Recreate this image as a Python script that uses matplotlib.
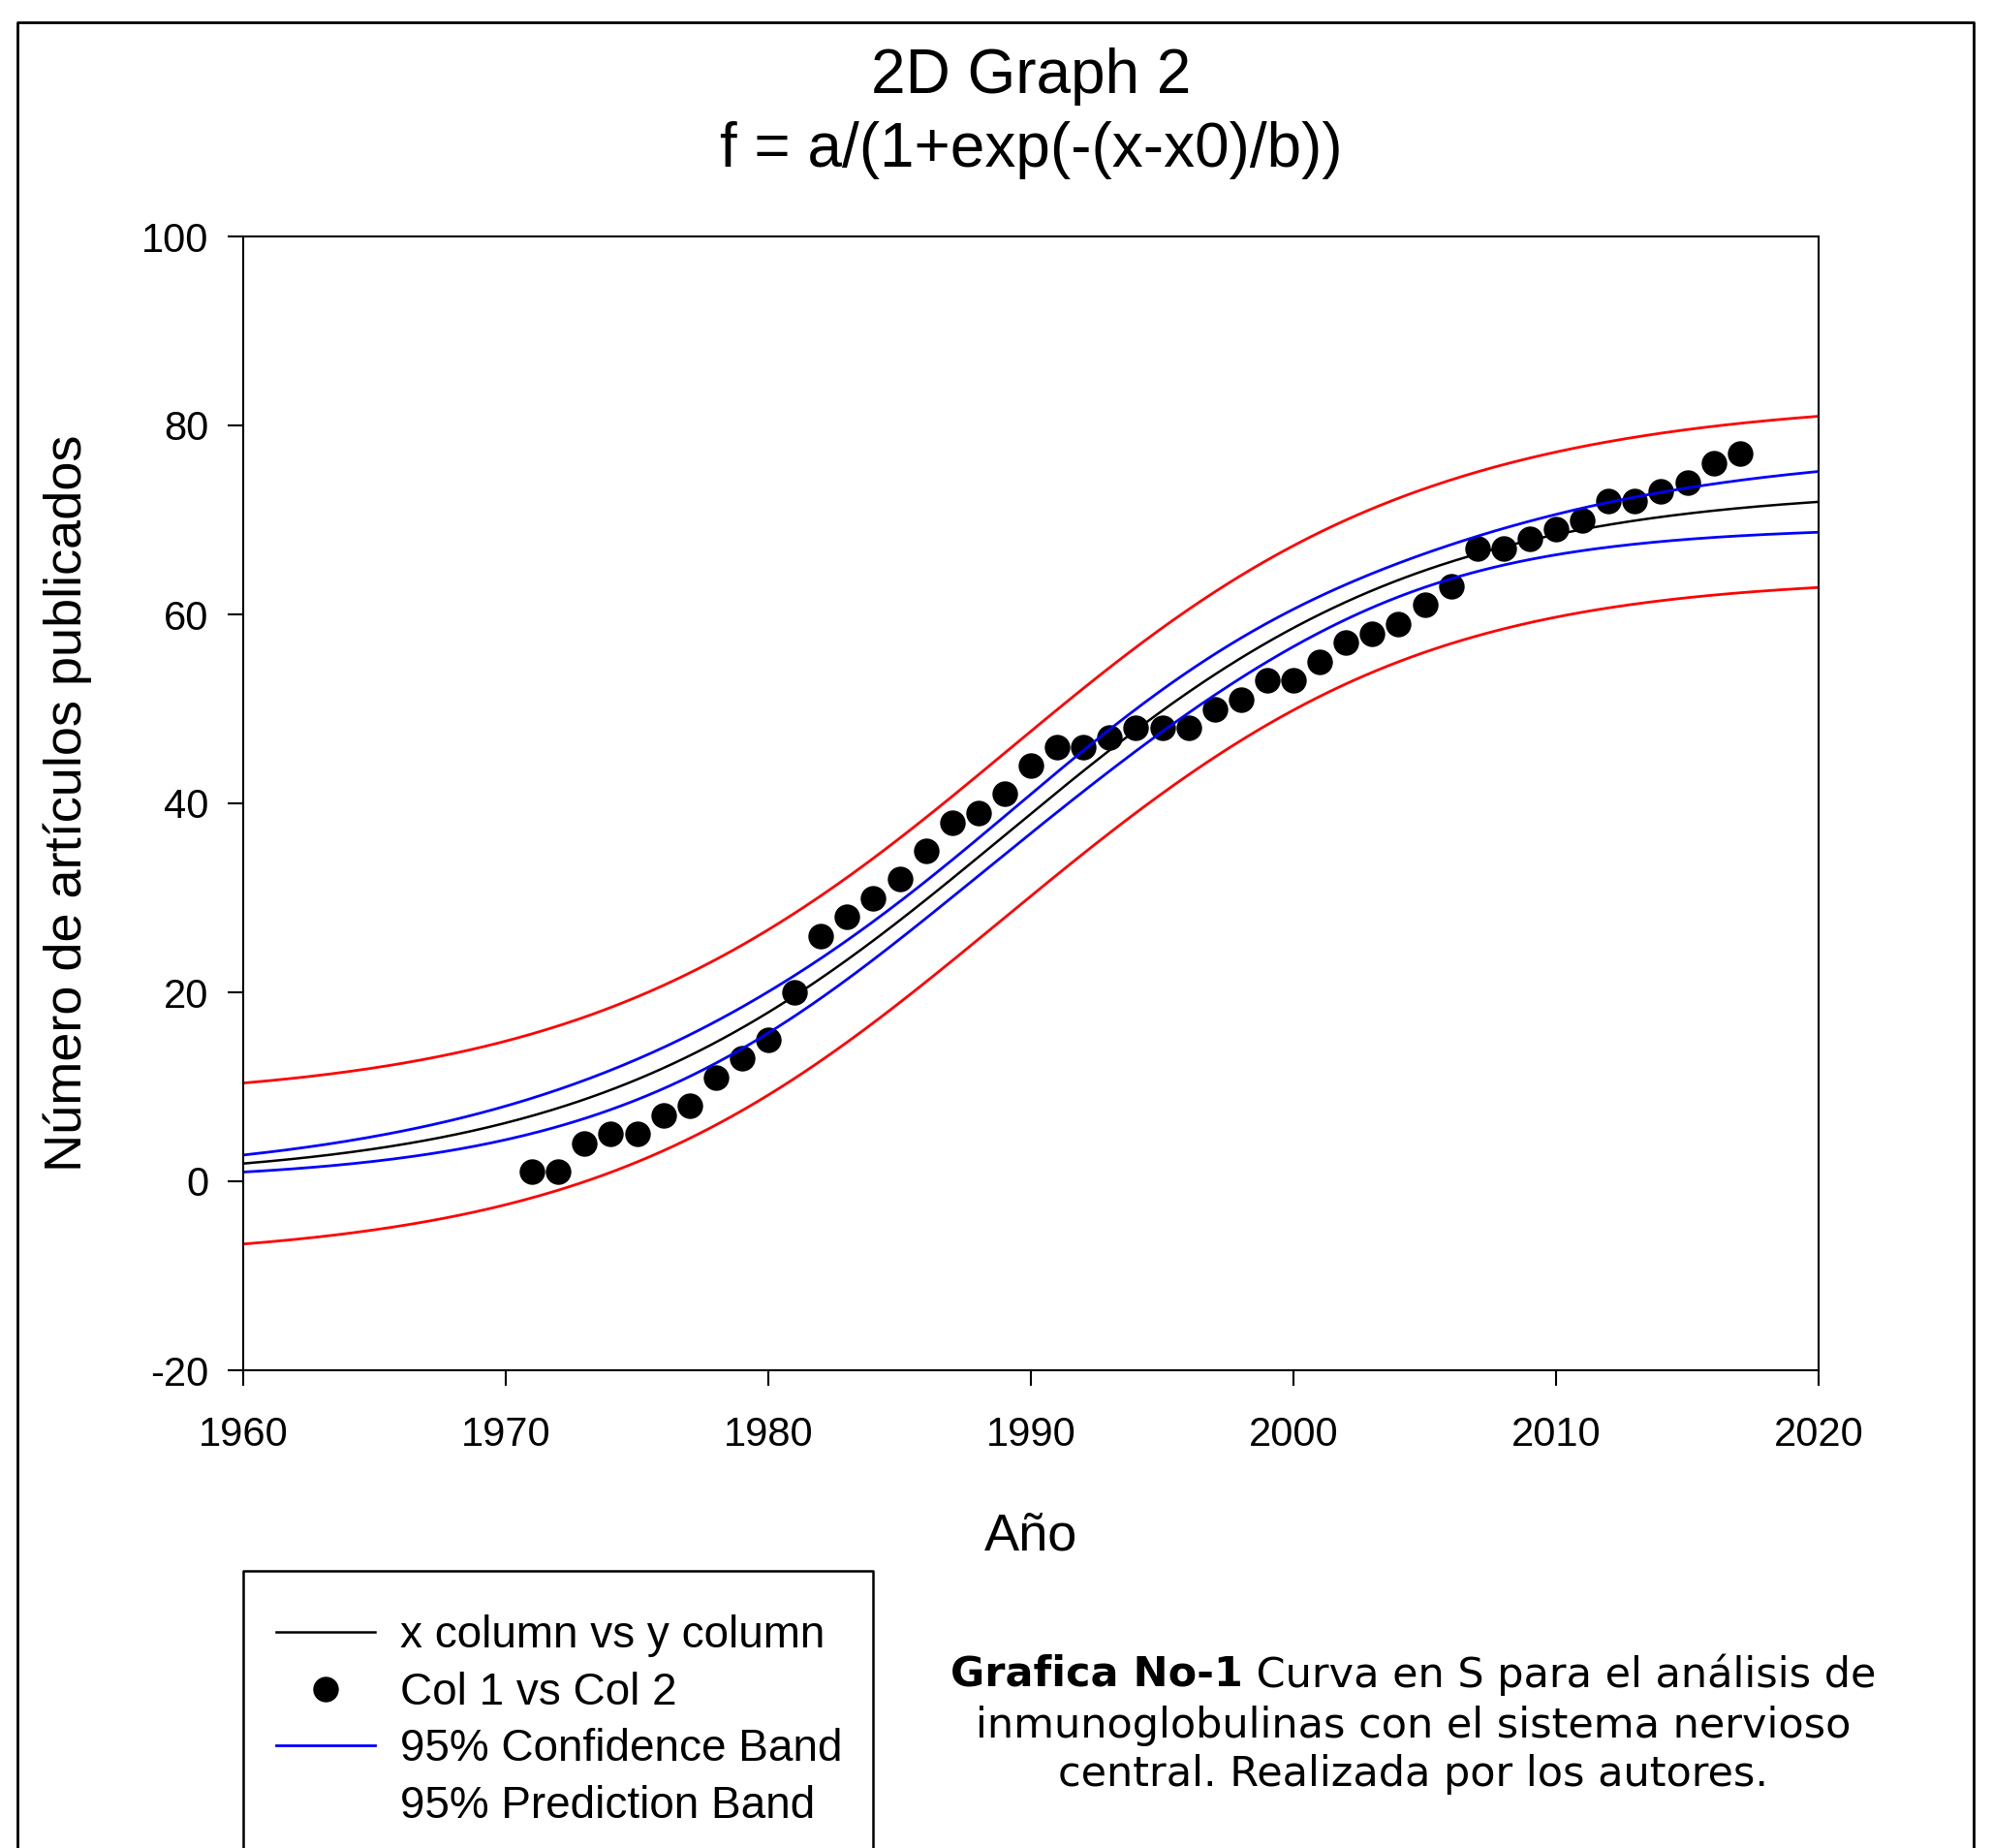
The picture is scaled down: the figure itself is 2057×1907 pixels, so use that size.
import numpy as np
import matplotlib
matplotlib.use('Agg')
import matplotlib.pyplot as plt
from matplotlib.lines import Line2D

# data: publications per year
years = np.arange(1971, 2018)
articles = [1, 1, 4, 5, 5, 7, 8, 11, 13, 15, 20, 26, 28, 30, 32, 35, 38, 39, 41, 44,
            46, 46, 47, 48, 48, 48, 50, 51, 53, 53, 55, 57, 58, 59, 61, 63, 67, 67,
            68, 69, 70, 72, 72, 73, 74, 76, 77]
x_ticks = [1960, 1970, 1980, 1990, 2000, 2010, 2020]
y_ticks = [-20, 0, 20, 40, 60, 80, 100]
legend_labels = ['x column vs y column', 'Col 1 vs Col 2', '95% Confidence Band', '95% Prediction Band']
t_975 = 2.0154  # t(0.975, n-3)

W, H = 2057, 1907
plt.rcParams['font.family'] = ['Liberation Sans', 'DejaVu Sans']
plt.rcParams['axes.unicode_minus'] = False

# sigmoid fit f = a/(1+exp(-(x-x0)/b)), gauss-newton
x = years.astype(float)
y = np.array(articles, float)
p = np.array([75.0, 1990.0, 8.0])

def jac(xx, p):
    a, x0, b = p
    e = np.exp(-(xx - x0) / b)
    f = a / (1 + e)
    J = np.column_stack([1 / (1 + e),
                         -a * e / (b * (1 + e) ** 2),
                         -a * e * (xx - x0) / (b ** 2 * (1 + e) ** 2)])
    return f, J

for it in range(60):
    f, J = jac(x, p)
    p = p + np.linalg.lstsq(J, y - f, rcond=None)[0]

f, J = jac(x, p)
s2 = np.sum((y - f) ** 2) / (len(x) - 3)
cov = s2 * np.linalg.inv(J.T @ J)

xs = np.linspace(1960, 2020, 400)
fs, Js = jac(xs, p)
se = np.sqrt(np.einsum('ij,jk,ik->i', Js, cov, Js))
conf = t_975 * se
pred = t_975 * np.sqrt(s2 + se ** 2)

fig = plt.figure(figsize=(W / 100, H / 100), dpi=100)
ax = fig.add_axes([251 / W, 1 - 1414 / H, (1877 - 251) / W, (1414 - 244) / H])

ax.plot(xs, fs, color='black', lw=1.8)
ax.plot(years, articles, 'o', color='black', ms=18, mec='black')
ax.plot(xs, fs + conf, color='blue', lw=2.0)
ax.plot(xs, fs - conf, color='blue', lw=2.0)
ax.plot(xs, fs + pred, color='red', lw=2.0)
ax.plot(xs, fs - pred, color='red', lw=2.0)

ax.set_xlim(1960, 2020)
ax.set_ylim(-20, 100)
ax.set_xticks(x_ticks)
ax.set_yticks(y_ticks)
ax.tick_params(direction='out', length=11.5, width=1.5, labelsize=30)
ax.tick_params(axis='x', pad=22)
ax.tick_params(axis='y', pad=14)
for s in ax.spines.values():
    s.set_linewidth(1.5)

fig.text(1064 / W, 1 - 1585 / H, 'Año', fontsize=39, ha='center', va='center')
fig.text(70 / W, 1 - 829 / H, 'Número de artículos publicados', fontsize=39,
         rotation=90, ha='center', va='center')
fig.text(1064 / W, 1 - 79 / H, '2D Graph 2', fontsize=46, ha='center', va='center')
fig.text(1064 / W, 1 - 155 / H, 'f = a/(1+exp(-(x-x0)/b))', fontsize=46, ha='center', va='center')

# outer frame (open at the bottom)
fig.lines.append(Line2D([18 / W, 18 / W, 2037 / W, 2037 / W], [0, 1 - 23 / H, 1 - 23 / H, 0],
                        transform=fig.transFigure, color='black', lw=2.0))
# legend box (open at the bottom)
fig.lines.append(Line2D([251 / W, 251 / W, 901 / W, 901 / W], [0, 1 - 1621 / H, 1 - 1621 / H, 0],
                        transform=fig.transFigure, color='black', lw=1.8))

handles = [Line2D([], [], color='black', lw=1.8),
           Line2D([], [], ls='none', marker='o', color='black', ms=18),
           Line2D([], [], color='blue', lw=2.0),
           Line2D([], [], color='none', lw=2.0)]
fig.legend(handles, legend_labels, loc='upper left', bbox_to_anchor=(285 / W, 1 - 1666 / H),
           bbox_transform=fig.transFigure, frameon=False, fontsize=33, borderpad=0,
           borderaxespad=0, handlelength=2.22, handletextpad=0.57, labelspacing=0.32)

# caption
cx = 1459
cap_font = 'DejaVu Sans'
cap_size = 31
t1 = fig.text(0, 1 - 1728 / H, 'Grafica No-1', family=cap_font, weight='bold', fontsize=cap_size, va='center')
t2 = fig.text(0, 1 - 1728 / H, ' Curva en S para el análisis de', family=cap_font, fontsize=cap_size, va='center')
fig.text(cx / W, 1 - 1781 / H, 'inmunoglobulinas con el sistema nervioso', family=cap_font,
         fontsize=cap_size, ha='center', va='center')
fig.text(cx / W, 1 - 1831 / H, 'central. Realizada por los autores.', family=cap_font,
         fontsize=cap_size, ha='center', va='center')
r = fig.canvas.get_renderer()
w1 = t1.get_window_extent(r).width
w2 = t2.get_window_extent(r).width
start = cx - (w1 + w2) / 2
t1.set_x(start / W)
t2.set_x((start + w1) / W)

fig.savefig('out.png', dpi=100)
